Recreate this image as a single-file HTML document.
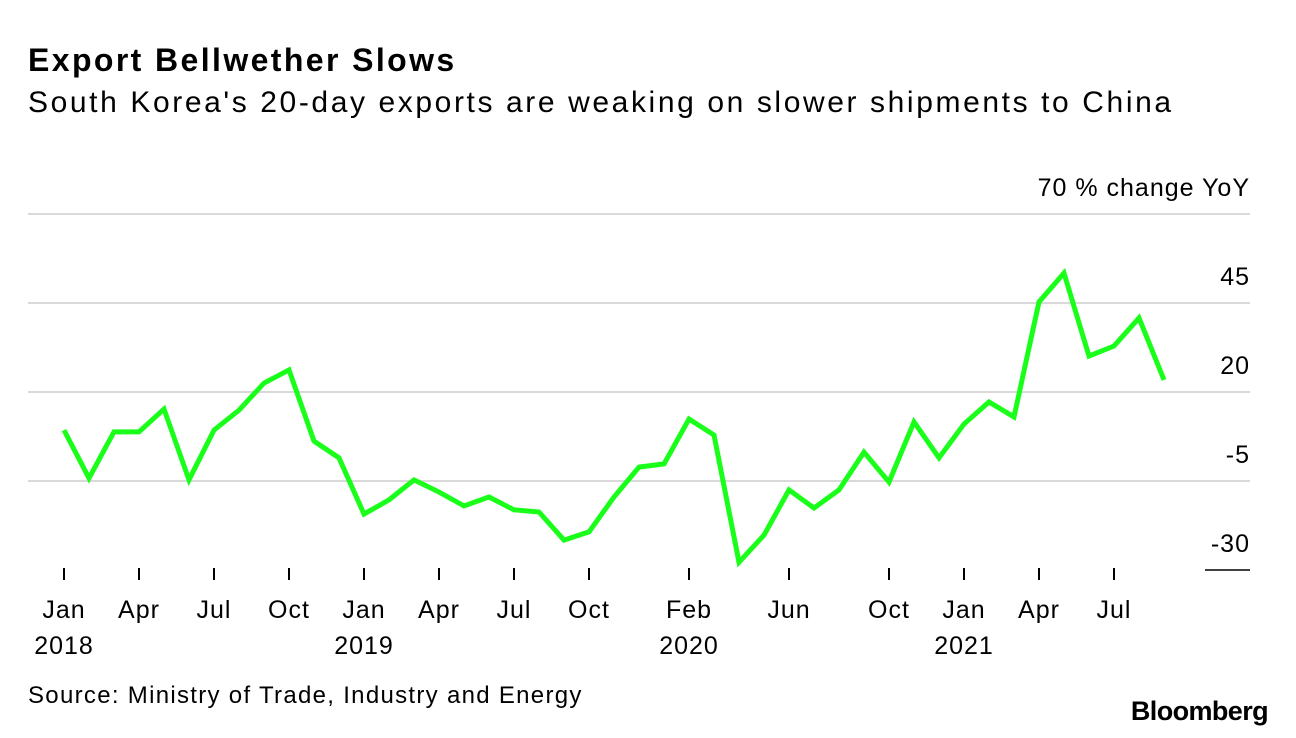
<!DOCTYPE html>
<html><head><meta charset="utf-8">
<style>
body{margin:0;background:#fff;width:1296px;height:738px;overflow:hidden;font-family:"Liberation Sans",sans-serif;color:#000}
#title{position:absolute;left:28px;top:42px;font-size:32px;font-weight:bold;letter-spacing:2.4px}
#sub{position:absolute;left:28px;top:86px;font-size:30px;letter-spacing:2.6px}
#src{position:absolute;left:28px;top:682px;font-size:24px;letter-spacing:1.3px}
#logo{position:absolute;right:28px;top:696px;font-size:27px;font-weight:bold;letter-spacing:-0.6px}
svg{position:absolute;left:0;top:0}
</style></head><body>
<div id="title">Export Bellwether Slows</div>
<div id="sub">South Korea's 20-day exports are weaking on slower shipments to China</div>
<svg id="chart" width="1296" height="738"></svg>
<div id="src">Source: Ministry of Trade, Industry and Energy</div>
<div id="logo">Bloomberg</div>
<script>
const values=[9.3,-4.2,8.8,8.8,15.2,-4.7,9.3,14.9,22.5,26.2,6.2,1.5,-14.3,-10.3,-4.7,-8.1,-12,-9.5,-13.1,-13.7,-21.6,-19.3,-9.5,-1.1,-0.2,12.4,7.9,-27.8,-20.2,-7.5,-12.6,-7.5,3.1,-5.3,11.6,1.5,11,17.2,13,45.3,53.4,30.1,32.9,40.8,23.4];
const yTicks=[70,45,20,-5,-30];
const xTickMonths=[0,3,6,9,12,15,18,21,25,29,33,36,39,42];
const xTickLabels=["Jan","Apr","Jul","Oct","Jan","Apr","Jul","Oct","Feb","Jun","Oct","Jan","Apr","Jul"];
const yearMonths=[0,12,25,36];
const yearLabels=["2018","2019","2020","2021"];
const NS="http://www.w3.org/2000/svg";
const svg=document.getElementById('chart');
const x=m=>64+m*25;
const y=v=>392-(v-20)*3.56;
const FONT='Liberation Sans, sans-serif';
function mk(t,a){const e=document.createElementNS(NS,t);for(const k in a)e.setAttribute(k,a[k]);svg.appendChild(e);return e;}
yTicks.forEach((t,i)=>{
  const last=i===yTicks.length-1;
  const g=mk('line',{x1:last?1205:28,x2:1250,y1:y(t),y2:y(t),stroke:last?'#000':'#d9d9d9','stroke-width':last?1.5:2});
  
  
  const tx=mk('text',{x:1250,y:y(t)-18,'text-anchor':'end','font-size':25,'letter-spacing':1,'font-family':FONT});
  tx.textContent=i===0?t+' % change YoY':String(t);
  
  
});
xTickMonths.forEach((m,i)=>{
  const l=mk('line',{x1:x(m),x2:x(m),y1:568,y2:580,stroke:'#000','stroke-width':2});
  
  
  const t=mk('text',{x:x(m),y:618,'text-anchor':'middle','font-size':25,'letter-spacing':1,'font-family':FONT});
  t.textContent=xTickLabels[i];
  
  
});
yearMonths.forEach((m,i)=>{
  const t=mk('text',{x:x(m),y:654,'text-anchor':'middle','font-size':25,'letter-spacing':1,'font-family':FONT});
  t.textContent=yearLabels[i];
  
  
});
const p=mk('polyline',{points:values.map((v,i)=>x(i)+','+y(v)).join(' '),fill:'none',stroke:'#1aff1a','stroke-width':5,'stroke-linejoin':'miter'});


</script>
</body></html>
